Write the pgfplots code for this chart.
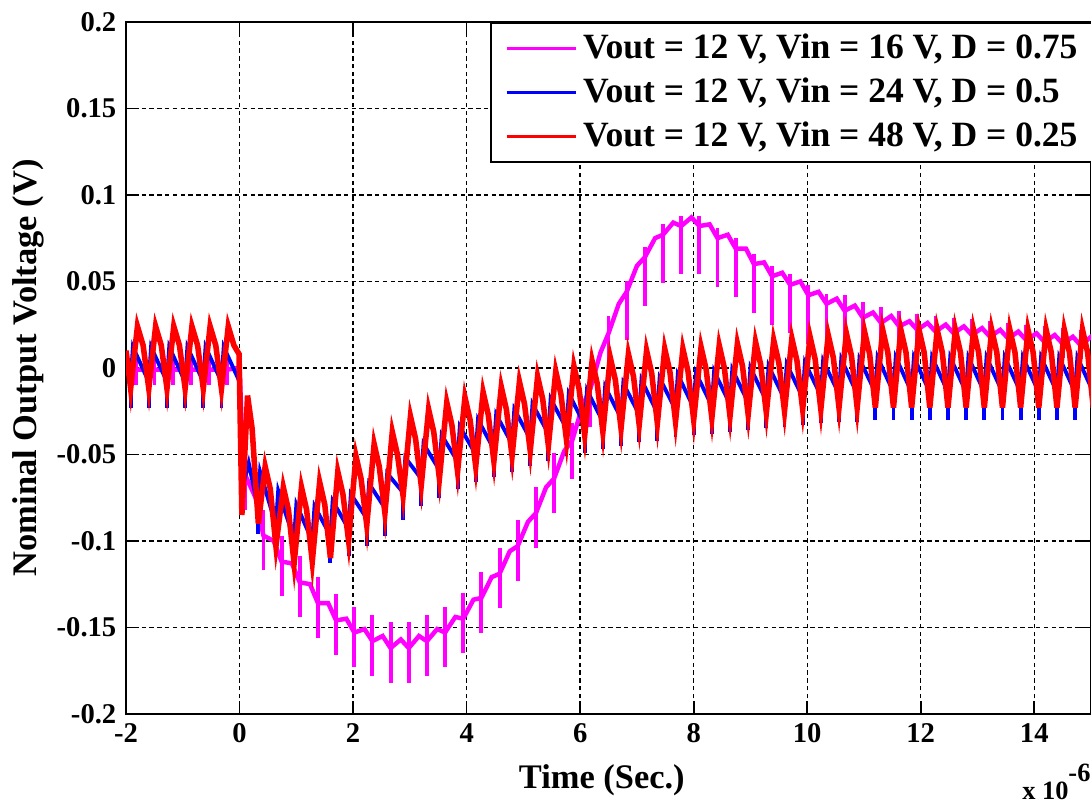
\documentclass[border=0pt]{standalone}
\usepackage{fontspec}
\setmainfont{Liberation Serif}
\usepackage{pgfplots}
\pgfplotsset{compat=1.18}
\definecolor{mag}{RGB}{255,0,255}
\definecolor{blu}{RGB}{0,0,255}
\definecolor{rd}{RGB}{255,0,0}

\begin{document}
\begin{tikzpicture}
\begin{axis}[
  scale only axis,
  width=347.4pt, height=249.1pt,
  xmin=-2, xmax=15, ymin=-0.2, ymax=0.2,
  xtick={-2,0,2,4,6,8,10,12,14},
  ytick={-0.2,-0.15,-0.1,-0.05,0,0.05,0.1,0.15,0.2},
  yticklabels={-0.2,-0.15,-0.1,-0.05,0,0.05,0.1,0.15,0.2},
  scaled ticks=false,
  /pgf/number format/assume math mode=true,
  tick label style={font=\fontsize{10.3}{12}\selectfont\bfseries},
  tick align=inside,
  major tick length=4.5pt,
  axis line style={line width=0.7pt},
  every tick/.style={black, line width=0.6pt},
  grid=major,
  major grid style={black, line width=0.5pt, dash pattern=on 1.6pt off 1.2pt},
  xlabel={Time (Sec.)},
  ylabel={Nominal Output Voltage (V)},
  label style={font=\fontsize{12.4}{14}\selectfont\bfseries},
  xlabel style={at={(axis description cs:0.493,-0.0956)}, anchor=center},
  ylabel style={at={(axis description cs:-0.1016,0.5)}, anchor=center},
  legend style={at={(rel axis cs:1,1)}, anchor=north east, xshift=2.5pt,
    draw=black, line width=0.7pt, font=\fontsize{12.8}{15}\selectfont\bfseries,
    inner xsep=5pt, inner ysep=2pt, row sep=1.5pt, cells={anchor=west}},
  legend image code/.code={\draw[#1] (0pt,0pt) -- (25pt,0pt);},
]
\addlegendimage{mag, line width=1.1pt}
\addlegendentry{Vout = 12 V, Vin = 16 V, D = 0.75}
\addlegendimage{blu, line width=1.1pt}
\addlegendentry{Vout = 12 V, Vin = 24 V, D = 0.5}
\addlegendimage{rd, line width=1.1pt}
\addlegendentry{Vout = 12 V, Vin = 48 V, D = 0.25}

% Vin = 16 V: slow curve with ripple, switching spikes as error bars
\addplot[mag, line width=1.6pt, forget plot,
  error bars/.cd, y dir=both, y explicit, error mark=none,
  error bar style={mag, line width=1.4pt}] coordinates {
(-2.00,-0.001)
(-1.82,-0.001) += (0,0.008) -= (0,0.009)
(-1.50,-0.001) += (0,0.008) -= (0,0.009)
(-1.18,-0.001) += (0,0.008) -= (0,0.009)
(-0.86,-0.001) += (0,0.008) -= (0,0.009)
(-0.54,-0.001) += (0,0.008) -= (0,0.009)
(-0.22,-0.001) += (0,0.008) -= (0,0.009)
(0.00,0.000)
(0.05,-0.045)
(0.10,-0.062) += (0,0.015) -= (0,0.020) (0.28,-0.075)
(0.42,-0.097) += (0,0.015) -= (0,0.020) (0.60,-0.100)
(0.74,-0.112) += (0,0.015) -= (0,0.020) (0.92,-0.113)
(1.06,-0.124) += (0,0.015) -= (0,0.020) (1.24,-0.125)
(1.38,-0.136) += (0,0.015) -= (0,0.020) (1.56,-0.136)
(1.70,-0.146) += (0,0.015) -= (0,0.020) (1.88,-0.145)
(2.02,-0.153) += (0,0.015) -= (0,0.020) (2.20,-0.151)
(2.34,-0.158) += (0,0.015) -= (0,0.020) (2.52,-0.155)
(2.66,-0.162) += (0,0.015) -= (0,0.020) (2.84,-0.157)
(2.98,-0.162) += (0,0.015) -= (0,0.020) (3.16,-0.155)
(3.30,-0.158) += (0,0.015) -= (0,0.020) (3.48,-0.151)
(3.62,-0.153) += (0,0.015) -= (0,0.020) (3.80,-0.144)
(3.94,-0.145) += (0,0.015) -= (0,0.020) (4.12,-0.134)
(4.26,-0.133) += (0,0.015) -= (0,0.020) (4.44,-0.121)
(4.58,-0.119) += (0,0.015) -= (0,0.020) (4.76,-0.106)
(4.90,-0.103) += (0,0.015) -= (0,0.020) (5.08,-0.089)
(5.22,-0.084) += (0,0.015) -= (0,0.020) (5.40,-0.069)
(5.54,-0.064) += (0,0.015) -= (0,0.020) (5.72,-0.048)
(5.86,-0.042) += (0,0.010) -= (0,0.022) (6.04,-0.022)
(6.18,-0.012) += (0,0.010) -= (0,0.022) (6.36,0.009)
(6.50,0.020) += (0,0.010) -= (0,0.022) (6.68,0.037)
(6.82,0.044) += (0,0.006) -= (0,0.028) (7.00,0.059)
(7.14,0.064) += (0,0.006) -= (0,0.028) (7.32,0.075)
(7.46,0.077) += (0,0.006) -= (0,0.028) (7.64,0.084)
(7.78,0.082) += (0,0.006) -= (0,0.028) (7.96,0.087)
(8.10,0.082) += (0,0.006) -= (0,0.028) (8.28,0.083)
(8.42,0.075) += (0,0.006) -= (0,0.028) (8.60,0.077)
(8.74,0.069) += (0,0.006) -= (0,0.028) (8.92,0.069)
(9.06,0.060) += (0,0.006) -= (0,0.028) (9.24,0.061)
(9.38,0.053) += (0,0.006) -= (0,0.028) (9.56,0.055)
(9.70,0.048) += (0,0.006) -= (0,0.028) (9.88,0.050)
(10.02,0.042) += (0,0.006) -= (0,0.028) (10.20,0.044)
(10.34,0.037) += (0,0.006) -= (0,0.024) (10.52,0.040)
(10.66,0.033) += (0,0.009) -= (0,0.015) (10.84,0.036)
(10.98,0.029) += (0,0.009) -= (0,0.015) (11.16,0.032)
(11.30,0.026) += (0,0.009) -= (0,0.008) (11.48,0.030)
(11.62,0.024) += (0,0.009) -= (0,0.008) (11.80,0.027)
(11.94,0.022) += (0,0.009) -= (0,0.008) (12.12,0.026)
(12.26,0.021) += (0,0.009) -= (0,0.008) (12.44,0.025)
(12.58,0.020) += (0,0.009) -= (0,0.008) (12.76,0.024)
(12.90,0.019) += (0,0.009) -= (0,0.008) (13.08,0.023)
(13.22,0.018) += (0,0.009) -= (0,0.008) (13.40,0.022)
(13.54,0.017) += (0,0.009) -= (0,0.008) (13.72,0.021)
(13.86,0.016) += (0,0.009) -= (0,0.008) (14.04,0.020)
(14.18,0.015) += (0,0.009) -= (0,0.008) (14.36,0.019)
(14.50,0.014) += (0,0.009) -= (0,0.008) (14.68,0.018)
(14.82,0.013) += (0,0.009) -= (0,0.008) (15.00,0.018)
(15.14,0.013) += (0,0.009) -= (0,0.008)
};

% Vin = 24 V: sawtooth with downward spikes
\addplot[blu, line width=1.4pt, forget plot,
  error bars/.cd, y dir=minus, y explicit, error mark=none,
  error bar style={blu, line width=1.4pt}] coordinates {
(-2.00,0.002)
(-1.92,-0.008) -= (0,0.015) (-1.88,0.012)
(-1.60,-0.008) -= (0,0.015) (-1.56,0.012)
(-1.28,-0.008) -= (0,0.015) (-1.24,0.012)
(-0.96,-0.008) -= (0,0.015) (-0.92,0.012)
(-0.64,-0.008) -= (0,0.015) (-0.60,0.012)
(-0.32,-0.008) -= (0,0.015) (-0.28,0.012)
(0.00,-0.008) -= (0,0.015) (0.06,-0.068) (0.16,-0.055)
(0.32,-0.080) -= (0,0.016) (0.36,-0.060)
(0.64,-0.091) -= (0,0.016) (0.68,-0.071)
(0.96,-0.099) -= (0,0.016) (1.00,-0.079)
(1.28,-0.100) -= (0,0.016) (1.32,-0.080)
(1.60,-0.097) -= (0,0.016) (1.64,-0.077)
(1.92,-0.093) -= (0,0.016) (1.96,-0.073)
(2.24,-0.087) -= (0,0.016) (2.28,-0.067)
(2.56,-0.081) -= (0,0.016) (2.60,-0.061)
(2.88,-0.072) -= (0,0.016) (2.92,-0.052)
(3.20,-0.064) -= (0,0.016) (3.24,-0.044)
(3.52,-0.059) -= (0,0.016) (3.56,-0.039)
(3.84,-0.054) -= (0,0.016) (3.88,-0.034)
(4.16,-0.050) -= (0,0.016) (4.20,-0.030)
(4.48,-0.047) -= (0,0.016) (4.52,-0.027)
(4.80,-0.044) -= (0,0.016) (4.84,-0.024)
(5.12,-0.041) -= (0,0.016) (5.16,-0.021)
(5.44,-0.038) -= (0,0.016) (5.48,-0.018)
(5.76,-0.035) -= (0,0.016) (5.80,-0.015)
(6.08,-0.033) -= (0,0.016) (6.12,-0.013)
(6.40,-0.031) -= (0,0.016) (6.44,-0.011)
(6.72,-0.029) -= (0,0.016) (6.76,-0.009)
(7.04,-0.027) -= (0,0.016) (7.08,-0.007)
(7.36,-0.026) -= (0,0.016) (7.40,-0.006)
(7.68,-0.024) -= (0,0.016) (7.72,-0.004)
(8.00,-0.023) -= (0,0.016) (8.04,-0.003)
(8.32,-0.022) -= (0,0.016) (8.36,-0.002)
(8.64,-0.021) -= (0,0.016) (8.68,-0.001)
(8.96,-0.020) -= (0,0.016) (9.00,0.000)
(9.28,-0.019) -= (0,0.016) (9.32,0.001)
(9.60,-0.018) -= (0,0.016) (9.64,0.002)
(9.92,-0.017) -= (0,0.016) (9.96,0.003)
(10.24,-0.016) -= (0,0.016) (10.28,0.004)
(10.56,-0.015) -= (0,0.016) (10.60,0.005)
(10.88,-0.015) -= (0,0.016) (10.92,0.005)
(11.20,-0.014) -= (0,0.016) (11.24,0.006)
(11.52,-0.014) -= (0,0.016) (11.56,0.006)
(11.84,-0.014) -= (0,0.016) (11.88,0.006)
(12.16,-0.014) -= (0,0.016) (12.20,0.006)
(12.48,-0.014) -= (0,0.016) (12.52,0.006)
(12.80,-0.014) -= (0,0.016) (12.84,0.006)
(13.12,-0.014) -= (0,0.016) (13.16,0.006)
(13.44,-0.014) -= (0,0.016) (13.48,0.006)
(13.76,-0.014) -= (0,0.016) (13.80,0.006)
(14.08,-0.014) -= (0,0.016) (14.12,0.006)
(14.40,-0.014) -= (0,0.016) (14.44,0.006)
(14.72,-0.014) -= (0,0.016) (14.76,0.006)
(15.04,-0.014) -= (0,0.016)
};

% Vin = 48 V: trough, peak, shoulder in every switching period
\addplot[rd, line width=2pt, forget plot] coordinates {
(-2.00,0.010)
(-1.92,-0.012) (-1.80,0.024) (-1.70,0.013)
(-1.60,-0.012) (-1.48,0.024) (-1.38,0.013)
(-1.28,-0.012) (-1.16,0.024) (-1.06,0.013)
(-0.96,-0.012) (-0.84,0.024) (-0.74,0.013)
(-0.64,-0.012) (-0.52,0.024) (-0.42,0.013)
(-0.32,-0.012) (-0.20,0.024) (-0.10,0.013)
(-0.01,0.008) (0.04,-0.085) (0.14,-0.016) (0.22,-0.035)
(0.33,-0.090) (0.45,-0.057) (0.54,-0.070)
(0.64,-0.103) (0.77,-0.069) (0.86,-0.082)
(0.96,-0.113) (1.09,-0.069) (1.18,-0.082)
(1.28,-0.112) (1.41,-0.066) (1.50,-0.079)
(1.60,-0.110) (1.73,-0.060) (1.82,-0.073)
(1.92,-0.100) (2.05,-0.051) (2.14,-0.064)
(2.24,-0.091) (2.37,-0.044) (2.46,-0.057)
(2.56,-0.084) (2.69,-0.037) (2.78,-0.050)
(2.88,-0.074) (3.01,-0.028) (3.10,-0.041)
(3.20,-0.068) (3.33,-0.024) (3.42,-0.037)
(3.52,-0.064) (3.65,-0.020) (3.74,-0.033)
(3.84,-0.060) (3.97,-0.017) (4.06,-0.030)
(4.16,-0.057) (4.29,-0.014) (4.38,-0.027)
(4.48,-0.054) (4.61,-0.011) (4.70,-0.024)
(4.80,-0.051) (4.93,-0.008) (5.02,-0.021)
(5.12,-0.048) (5.25,-0.005) (5.34,-0.018)
(5.44,-0.045) (5.57,-0.002) (5.66,-0.015)
(5.76,-0.042) (5.89,0.001) (5.98,-0.012)
(6.08,-0.039) (6.21,0.004) (6.30,-0.009)
(6.40,-0.037) (6.53,0.006) (6.62,-0.007)
(6.72,-0.035) (6.85,0.008) (6.94,-0.005)
(7.04,-0.033) (7.17,0.010) (7.26,-0.003)
(7.36,-0.032) (7.49,0.011) (7.58,-0.002)
(7.68,-0.031) (7.81,0.011) (7.90,-0.002)
(8.00,-0.030) (8.13,0.012) (8.22,-0.001)
(8.32,-0.029) (8.45,0.013) (8.54,0.000)
(8.64,-0.028) (8.77,0.014) (8.86,0.001)
(8.96,-0.027) (9.09,0.015) (9.18,0.002)
(9.28,-0.026) (9.41,0.016) (9.50,0.003)
(9.60,-0.025) (9.73,0.017) (9.82,0.004)
(9.92,-0.024) (10.05,0.018) (10.14,0.005)
(10.24,-0.024) (10.37,0.019) (10.46,0.006)
(10.56,-0.023) (10.69,0.020) (10.78,0.007)
(10.88,-0.023) (11.01,0.021) (11.10,0.008)
(11.20,-0.023) (11.33,0.022) (11.42,0.009)
(11.52,-0.023) (11.65,0.022) (11.74,0.009)
(11.84,-0.023) (11.97,0.022) (12.06,0.009)
(12.16,-0.023) (12.29,0.022) (12.38,0.009)
(12.48,-0.023) (12.61,0.022) (12.70,0.009)
(12.80,-0.023) (12.93,0.022) (13.02,0.009)
(13.12,-0.023) (13.25,0.022) (13.34,0.009)
(13.44,-0.023) (13.57,0.022) (13.66,0.009)
(13.76,-0.023) (13.89,0.022) (13.98,0.009)
(14.08,-0.023) (14.21,0.022) (14.30,0.009)
(14.40,-0.023) (14.53,0.022) (14.62,0.009)
(14.72,-0.023) (14.85,0.022) (14.94,0.009)
(15.04,-0.023)
};

\coordinate (bl) at (rel axis cs:0,0);
\coordinate (br) at (rel axis cs:1,0);
\coordinate (tr) at (rel axis cs:1,1);
\end{axis}
\node[anchor=base east, inner sep=0pt, font=\fontsize{9.5}{11}\selectfont\bfseries]
  at ([yshift=-31pt]br) {x 10\raisebox{6.5pt}{-6}};
\pgfresetboundingbox
\path[use as bounding box] ([shift={(-45.4pt,-32.4pt)}]bl) rectangle ([shift={(0pt,7.9pt)}]tr);
\end{tikzpicture}
\end{document}
